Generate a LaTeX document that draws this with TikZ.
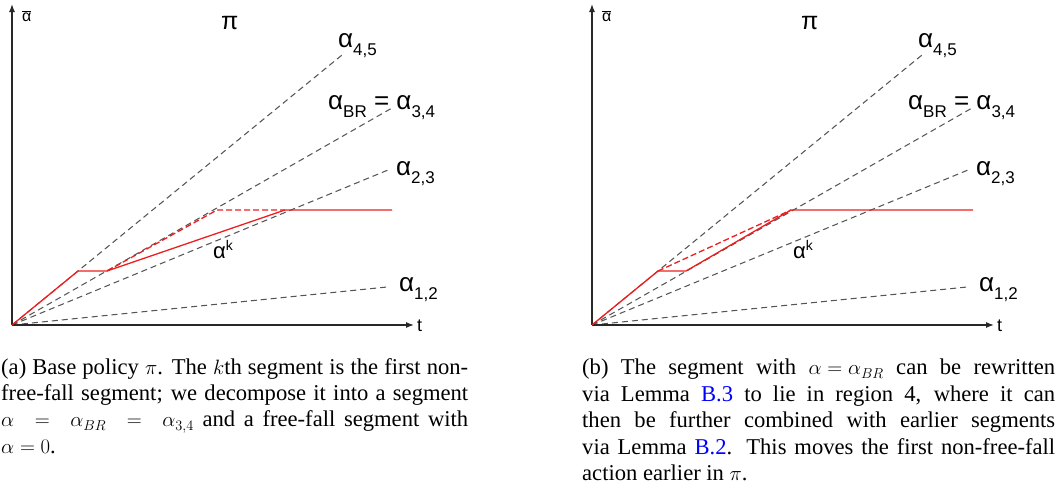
\documentclass[tikz,border=0pt]{standalone}
\usepackage{fontspec}
\setmainfont{Liberation Serif}
\newfontfamily\sflab{Liberation Sans}
\usetikzlibrary{arrows.meta}
\definecolor{guidegray}{RGB}{85,85,85}
\definecolor{axisgray}{RGB}{40,40,40}
\definecolor{pathred}{RGB}{238,30,30}
\definecolor{linkblue}{RGB}{0,0,255}
\newcommand{\gsub}[2]{#1\raisebox{-8pt}{\fontsize{17pt}{17pt}\selectfont #2}}
\newcommand{\jlA}[1]{\makebox[467pt][s]{#1}}
\newcommand{\jlB}[1]{\makebox[473pt][s]{#1}}
\tikzset{
  axis/.style={draw=axisgray,line width=1.3pt,-{Latex[length=8pt,width=6pt]}},
  guide/.style={draw=guidegray,line width=1.05pt,dash pattern=on 6pt off 4pt},
  redsolid/.style={draw=pathred,line width=1.3pt,line join=round},
  reddash/.style={draw=pathred,line width=1.3pt,dash pattern=on 6pt off 3pt},
  biglbl/.style={font=\sflab\fontsize{26pt}{26pt}\selectfont,inner sep=0pt,anchor=base west},
  smalllbl/.style={font=\sflab\fontsize{16pt}{16pt}\selectfont,inner sep=0pt,anchor=base west},
  caption/.style={font=\fontsize{22.6pt}{26.4pt}\selectfont,inner sep=0pt,anchor=north west,align=left}
}
\begin{document}
\begin{tikzpicture}[x=1pt,y=-1pt]
\useasboundingbox (0,0) rectangle (1062,485);
\foreach \dx/\p in {0/L,580/R}{
  \begin{scope}[xshift=\dx pt]
  \coordinate (O\p) at (12,325);
  \coordinate (Y\p) at (12,4);
  \coordinate (X\p) at (414,325);
  \coordinate (E45\p) at (342,55);
  \coordinate (E34\p) at (392,108);
  \coordinate (E23\p) at (388,170);
  \coordinate (E12\p) at (387,287);
  \draw[guide] (O\p) -- (E45\p);
  \draw[guide] (O\p) -- (E34\p);
  \draw[guide] (O\p) -- (E23\p);
  \draw[guide] (O\p) -- (E12\p);
  \draw[axis] (O\p) -- (Y\p);
  \draw[axis] (O\p) -- (X\p);
  \node[smalllbl] (abar\p) at (22,21) {$\overline{\hbox{\sflab α}}$};
  \node[smalllbl,font=\sflab\fontsize{18pt}{18pt}\selectfont] (t\p) at (417,331) {t};
  \node[biglbl,font=\sflab\fontsize{25pt}{25pt}\selectfont] (pi\p) at (221,29) {π};
  \node[biglbl] (l45\p) at (338,47) {\gsub{α}{4,5}};
  \node[biglbl] (l34\p) at (328,109) {\gsub{α}{BR} = \gsub{α}{3,4}};
  \node[biglbl] (l23\p) at (396,175) {\gsub{α}{2,3}};
  \node[biglbl] (l12\p) at (399,291) {\gsub{α}{1,2}};
  \node[biglbl,font=\sflab\fontsize{22pt}{22pt}\selectfont] (lk\p) at (213,258) {α\raisebox{8pt}{\fontsize{14pt}{14pt}\selectfont k}};
  \end{scope}
}
% left red path
\coordinate (A1) at (78,271);
\coordinate (A2) at (107,271);
\coordinate (A3) at (285,210);
\coordinate (A4) at (392,210);
\coordinate (AQ) at (217,210);
\draw[reddash] (A2) -- (AQ) -- (A3);
\draw[redsolid] (OL) -- (A1) -- (A2) -- (A3) -- (A4);
% right red path
\coordinate (B1) at (658,271);
\coordinate (B2) at (686,271);
\coordinate (B3) at (791,210);
\coordinate (B4) at (973,210);
\draw[reddash] (B1) -- (B3);
\draw[redsolid] (OR) -- (B1) -- (B2) -- (B3) -- (B4);
% captions
\node[caption] (capA) at (1,358) {\jlA{(a) Base policy $\pi$. The $k$th segment is the first non-}\\
\jlA{free-fall segment; we decompose it into a segment}\\
\jlA{$\alpha\ =\ \alpha_{BR}\ =\ \alpha_{3,4}$ and a free-fall segment with}\\
$\alpha = 0$.};
\node[caption] (capB) at (582,359) {\jlB{(b) The segment with \mbox{$\alpha = \alpha_{BR}$} can be rewritten}\\
\jlB{via Lemma \textcolor{linkblue}{B.3} to lie in region 4, where it can}\\
\jlB{then be further combined with earlier segments}\\
\jlB{via Lemma \textcolor{linkblue}{B.2}. This moves the first non-free-fall}\\
action earlier in $\pi$.};
\end{tikzpicture}
\end{document}
